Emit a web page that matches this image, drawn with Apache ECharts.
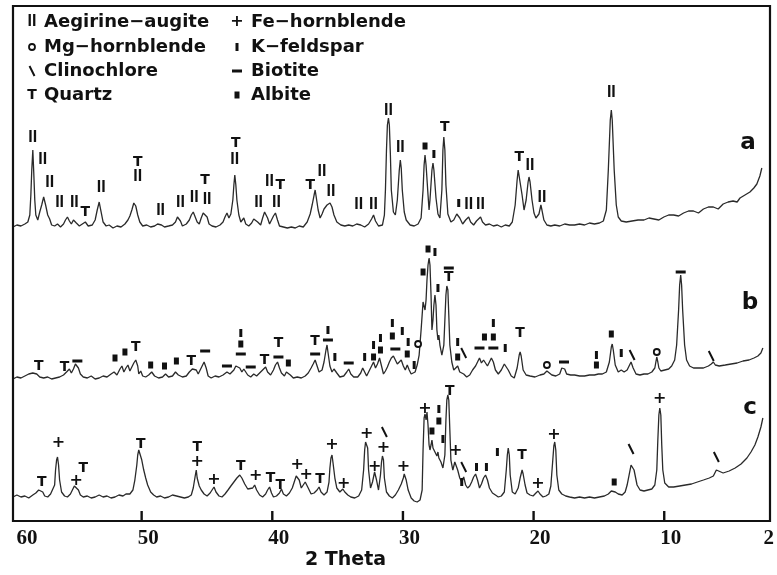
<!DOCTYPE html>
<html><head><meta charset="utf-8">
<script src="https://cdn.jsdelivr.net/npm/echarts@6/dist/echarts.min.js"></script>
<style>html,body{margin:0;padding:0;background:#fff}#c{width:777px;height:575px}</style>
</head><body><div id="c"></div>
<script>
// ---- data: [2theta, intensity above the pattern's own baseline] ----
const traceA = [[59.85,1],[59.55,3],[59.24,2],[58.94,4],[58.71,6],[58.56,13],[58.48,33],[58.41,58],[58.33,78],[58.26,56],[58.18,28],[58.10,13],[57.95,8],[57.80,16],[57.65,23],[57.50,31],[57.35,23],[57.19,13],[57.04,9],[56.89,3],[56.66,2],[56.44,4],[56.21,1],[55.98,4],[55.83,8],[55.68,11],[55.53,7],[55.38,4],[55.22,8],[55.15,10],[55.00,5],[54.77,2],[54.54,4],[54.31,6],[54.09,2],[53.78,3],[53.56,8],[53.40,18],[53.25,26],[53.10,16],[52.95,6],[52.72,2],[52.49,3],[52.19,0],[51.89,2],[51.58,1],[51.28,4],[51.05,8],[50.90,12],[50.75,18],[50.60,25],[50.52,26],[50.45,22],[50.30,13],[50.14,6],[49.92,2],[49.61,3],[49.31,1],[49.01,2],[48.78,4],[48.63,6],[48.48,3],[48.25,1],[47.94,2],[47.64,3],[47.41,6],[47.26,11],[47.19,13],[47.03,7],[46.88,2],[46.58,4],[46.35,8],[46.20,13],[46.05,16],[45.90,14],[45.75,6],[45.59,4],[45.44,10],[45.29,15],[45.14,17],[44.99,11],[44.84,4],[44.61,2],[44.31,1],[44.00,3],[43.77,6],[43.62,11],[43.47,15],[43.32,10],[43.17,14],[43.02,28],[42.94,43],[42.87,53],[42.79,43],[42.71,28],[42.56,13],[42.41,6],[42.18,10],[42.03,4],[41.80,2],[41.58,5],[41.42,9],[41.27,11],[41.12,6],[40.89,3],[40.74,10],[40.59,16],[40.51,18],[40.36,10],[40.21,4],[40.06,6],[39.91,12],[39.76,15],[39.60,8],[39.45,2],[39.15,1],[38.85,0],[38.54,1],[38.24,0],[37.94,2],[37.63,1],[37.33,6],[37.10,14],[36.95,23],[36.80,33],[36.72,38],[36.65,32],[36.49,18],[36.34,10],[36.19,14],[36.04,19],[35.81,23],[35.58,25],[35.43,21],[35.28,13],[35.06,6],[34.75,3],[34.45,2],[34.15,3],[33.84,2],[33.54,4],[33.39,6],[33.23,3],[32.93,1],[32.63,4],[32.40,9],[32.25,13],[32.10,7],[31.87,2],[31.57,3],[31.42,13],[31.34,38],[31.26,78],[31.19,103],[31.11,110],[31.04,103],[30.96,73],[30.89,38],[30.73,16],[30.58,13],[30.43,28],[30.28,58],[30.20,68],[30.13,60],[30.05,38],[29.90,16],[29.75,8],[29.45,3],[29.14,2],[28.84,4],[28.61,10],[28.46,38],[28.38,63],[28.31,73],[28.23,63],[28.08,33],[28.00,18],[27.93,28],[27.78,58],[27.70,65],[27.63,58],[27.47,30],[27.32,14],[27.17,10],[27.02,38],[26.94,78],[26.87,91],[26.79,78],[26.71,43],[26.56,14],[26.33,6],[26.11,8],[25.88,14],[25.80,15],[25.65,10],[25.43,4],[25.20,8],[24.97,11],[24.82,6],[24.59,3],[24.37,7],[24.06,11],[23.91,6],[23.68,3],[23.38,4],[23.08,2],[22.77,3],[22.47,1],[22.17,3],[21.86,2],[21.63,6],[21.41,23],[21.26,48],[21.18,58],[21.10,60],[21.03,56],[20.88,33],[20.73,18],[20.57,28],[20.42,46],[20.35,51],[20.27,46],[20.12,28],[19.97,15],[19.82,10],[19.59,14],[19.44,23],[19.36,18],[19.21,8],[18.98,3],[18.68,2],[18.38,3],[18.00,2],[17.62,4],[17.24,3],[16.86,3],[16.48,4],[16.10,3],[15.72,5],[15.34,4],[14.96,5],[14.66,7],[14.43,18],[14.28,58],[14.13,108],[14.05,118],[13.98,108],[13.83,58],[13.67,23],[13.52,11],[13.29,7],[12.91,6],[12.46,7],[12.00,8],[11.93,6],[11.55,8],[11.17,10],[10.79,9],[10.41,8],[10.03,11],[9.66,13],[9.28,13],[8.90,12],[8.52,15],[8.14,17],[7.76,17],[7.38,15],[7.00,19],[6.62,21],[6.24,21],[5.87,19],[5.49,24],[5.11,26],[4.73,27],[4.42,26],[4.20,30],[3.82,33],[3.44,36],[3.14,40],[2.91,44],[2.68,52],[2.53,60]];

const traceB = [[59.85,1],[59.55,3],[59.24,2],[58.94,4],[58.64,6],[58.33,7],[58.18,8],[58.03,6],[57.80,3],[57.50,2],[57.19,3],[56.89,1],[56.59,2],[56.28,3],[55.98,5],[55.75,8],[55.53,11],[55.38,7],[55.22,11],[55.07,16],[55.00,17],[54.84,12],[54.69,6],[54.47,3],[54.16,2],[53.86,4],[53.56,1],[53.25,2],[52.95,4],[52.65,3],[52.34,6],[52.11,8],[51.89,5],[51.66,11],[51.51,14],[51.36,8],[51.20,12],[51.05,15],[50.90,9],[50.75,13],[50.60,17],[50.45,20],[50.30,14],[50.22,6],[50.07,9],[49.92,4],[49.69,3],[49.46,5],[49.23,8],[49.01,4],[48.70,2],[48.40,3],[48.17,6],[47.94,3],[47.64,4],[47.41,8],[47.19,5],[46.88,3],[46.58,4],[46.35,8],[46.12,11],[45.97,13],[45.82,10],[45.67,6],[45.52,8],[45.37,14],[45.22,18],[45.06,12],[44.91,4],[44.68,2],[44.38,4],[44.08,3],[43.77,5],[43.47,8],[43.24,6],[42.94,10],[42.79,14],[42.64,15],[42.49,12],[42.33,8],[42.18,11],[42.03,10],[41.88,5],[41.65,3],[41.42,6],[41.20,4],[40.97,7],[40.74,10],[40.51,13],[40.36,8],[40.13,5],[39.91,10],[39.76,15],[39.60,18],[39.45,12],[39.30,7],[39.07,4],[38.92,8],[38.77,10],[38.62,5],[38.39,2],[38.09,3],[37.78,2],[37.48,4],[37.25,7],[37.03,12],[36.87,16],[36.72,20],[36.57,14],[36.42,8],[36.19,10],[36.04,18],[35.89,30],[35.81,35],[35.74,28],[35.59,14],[35.43,8],[35.28,11],[35.21,13],[35.06,7],[34.83,3],[34.53,4],[34.30,8],[34.15,11],[33.99,6],[33.77,3],[33.46,3],[33.23,7],[33.08,12],[32.93,10],[32.78,4],[32.63,6],[32.40,14],[32.25,18],[32.10,12],[31.95,16],[31.79,22],[31.64,14],[31.49,6],[31.34,9],[31.19,13],[31.04,18],[30.89,22],[30.73,24],[30.58,22],[30.43,16],[30.28,18],[30.13,20],[29.97,14],[29.82,10],[29.67,15],[29.52,10],[29.37,6],[29.22,5],[29.07,8],[28.91,15],[28.76,25],[28.61,50],[28.46,78],[28.38,80],[28.31,70],[28.23,80],[28.16,100],[28.08,115],[28.00,122],[27.93,115],[27.85,85],[27.78,50],[27.70,60],[27.63,75],[27.55,85],[27.47,75],[27.40,50],[27.32,40],[27.25,45],[27.17,35],[27.02,25],[26.87,35],[26.79,60],[26.71,85],[26.64,94],[26.56,90],[26.49,65],[26.41,35],[26.26,18],[26.11,10],[25.96,12],[25.81,14],[25.65,8],[25.50,10],[25.35,6],[25.12,3],[24.89,5],[24.67,10],[24.44,14],[24.29,18],[24.14,22],[23.99,17],[23.83,20],[23.68,18],[23.53,14],[23.38,18],[23.23,22],[23.08,18],[22.92,10],[22.70,6],[22.47,10],[22.24,16],[22.09,17],[21.94,10],[21.71,4],[21.48,2],[21.26,12],[21.10,25],[21.03,28],[20.95,24],[20.80,10],[20.57,5],[20.27,4],[19.89,3],[19.51,5],[19.21,6],[18.98,9],[18.91,10],[18.83,8],[18.60,5],[18.30,4],[18.00,6],[17.84,12],[17.69,14],[17.62,11],[17.47,6],[17.16,5],[16.86,5],[16.48,4],[16.10,4],[15.72,5],[15.34,5],[15.19,7],[15.04,6],[14.74,6],[14.43,8],[14.20,18],[14.05,33],[13.98,36],[13.90,30],[13.75,15],[13.52,8],[13.29,10],[13.07,8],[12.84,10],[12.69,14],[12.54,18],[12.38,12],[12.16,6],[11.86,5],[11.55,6],[11.25,6],[10.95,8],[10.72,12],[10.64,18],[10.57,23],[10.49,18],[10.41,12],[10.26,9],[9.96,10],[9.66,11],[9.43,14],[9.20,20],[9.05,35],[8.90,70],[8.82,95],[8.74,105],[8.67,95],[8.59,70],[8.44,35],[8.29,20],[8.06,14],[7.76,12],[7.38,12],[7.00,12],[6.62,14],[6.40,16],[6.24,18],[6.09,15],[5.79,14],[5.33,15],[4.88,16],[4.42,17],[3.97,19],[3.51,20],[3.13,22],[2.83,24],[2.60,27],[2.45,32]];

const traceC = [[59.85,3],[59.55,5],[59.24,3],[58.94,4],[58.64,2],[58.33,5],[58.10,7],[57.88,10],[57.73,12],[57.57,8],[57.42,4],[57.19,3],[56.97,6],[56.82,8],[56.66,15],[56.59,30],[56.51,40],[56.44,43],[56.36,35],[56.28,20],[56.13,8],[55.90,4],[55.68,3],[55.45,6],[55.30,10],[55.15,14],[55.00,16],[54.84,10],[54.69,5],[54.47,3],[54.16,4],[53.86,2],[53.56,3],[53.25,5],[52.95,3],[52.65,4],[52.34,2],[52.04,3],[51.74,5],[51.43,4],[51.20,6],[51.05,8],[50.90,6],[50.67,10],[50.52,20],[50.37,35],[50.30,45],[50.22,50],[50.14,52],[50.07,48],[49.99,40],[49.84,30],[49.69,22],[49.54,15],[49.31,8],[49.08,5],[48.85,3],[48.55,4],[48.25,2],[47.94,3],[47.64,5],[47.33,4],[47.03,3],[46.73,2],[46.43,3],[46.20,5],[46.05,12],[45.90,24],[45.82,30],[45.75,22],[45.59,14],[45.44,10],[45.22,6],[44.99,4],[44.76,7],[44.61,10],[44.46,13],[44.31,8],[44.08,4],[43.85,3],[43.62,6],[43.39,10],[43.17,14],[42.94,18],[42.71,22],[42.49,25],[42.33,22],[42.11,16],[41.88,11],[41.73,9],[41.50,12],[41.35,15],[41.20,10],[40.97,5],[40.74,3],[40.51,6],[40.36,10],[40.21,13],[40.06,7],[39.91,3],[39.68,4],[39.45,7],[39.30,11],[39.15,6],[38.92,4],[38.69,7],[38.47,12],[38.32,18],[38.17,24],[38.09,26],[37.94,20],[37.78,12],[37.63,14],[37.48,18],[37.40,19],[37.25,12],[37.03,6],[36.80,7],[36.57,10],[36.42,13],[36.27,8],[36.04,5],[35.81,8],[35.66,18],[35.59,32],[35.51,42],[35.43,45],[35.36,38],[35.21,22],[35.06,12],[34.83,8],[34.60,11],[34.45,8],[34.22,5],[33.99,3],[33.69,2],[33.39,4],[33.16,10],[33.01,30],[32.93,50],[32.86,58],[32.78,60],[32.70,52],[32.63,30],[32.48,12],[32.33,18],[32.17,28],[32.02,20],[31.87,10],[31.72,25],[31.64,38],[31.57,44],[31.49,40],[31.42,22],[31.26,8],[31.04,4],[30.81,2],[30.58,5],[30.35,10],[30.13,16],[29.97,22],[29.90,26],[29.75,20],[29.60,10],[29.37,2],[29.14,-1],[28.91,-2],[28.69,0],[28.53,10],[28.46,50],[28.38,82],[28.31,86],[28.23,80],[28.16,88],[28.08,75],[28.00,55],[27.93,50],[27.85,55],[27.78,60],[27.70,52],[27.55,48],[27.40,44],[27.32,48],[27.25,42],[27.09,38],[26.94,32],[26.79,45],[26.71,80],[26.64,100],[26.56,105],[26.49,100],[26.41,70],[26.33,40],[26.18,30],[26.03,38],[25.96,40],[25.81,30],[25.65,22],[25.50,18],[25.35,23],[25.20,15],[25.05,12],[24.89,14],[24.74,18],[24.59,23],[24.44,26],[24.29,20],[24.14,12],[23.99,16],[23.83,22],[23.68,25],[23.53,20],[23.38,12],[23.15,7],[22.92,5],[22.70,3],[22.47,4],[22.24,8],[22.09,30],[22.01,45],[21.94,52],[21.86,45],[21.79,25],[21.63,8],[21.41,6],[21.18,12],[21.03,22],[20.88,30],[20.80,26],[20.65,15],[20.50,7],[20.27,5],[20.04,4],[19.82,7],[19.66,9],[19.51,6],[19.28,3],[19.06,4],[18.83,6],[18.68,14],[18.53,40],[18.45,54],[18.38,58],[18.30,50],[18.22,25],[18.07,10],[17.84,6],[17.54,4],[17.24,3],[16.86,2],[16.48,3],[16.10,2],[15.72,3],[15.34,2],[14.96,3],[14.58,4],[14.28,6],[14.05,9],[13.90,10],[13.75,8],[13.52,6],[13.22,5],[12.99,8],[12.84,15],[12.69,25],[12.54,35],[12.46,37],[12.31,30],[12.08,15],[11.85,10],[11.55,9],[11.25,10],[10.95,11],[10.72,15],[10.57,30],[10.49,60],[10.41,85],[10.34,92],[10.26,85],[10.19,55],[10.11,30],[9.96,17],[9.66,13],[9.28,13],[8.82,14],[8.37,15],[7.91,16],[7.46,18],[7.00,20],[6.55,22],[6.24,24],[6.01,30],[5.86,28],[5.49,27],[5.03,29],[4.57,32],[4.12,36],[3.67,42],[3.36,48],[3.06,55],[2.83,63],[2.60,73],[2.45,82]];

// phase marks: [2theta, level above baseline, phase code]
const marksA = [[58.33,90,'II'],[57.57,68,'II'],[57.04,45,'II'],[56.28,25,'II'],[55.15,25,'II'],[54.31,16,'T'],[53.10,40,'II'],[50.30,66,'T'],[50.30,51,'II'],[48.55,17,'II'],[47.03,25,'II'],[45.97,30,'II'],[45.14,48,'T'],[44.99,28,'II'],[42.79,85,'T'],[42.87,68,'II'],[41.05,25,'II'],[40.21,46,'II'],[39.38,43,'T'],[39.68,25,'II'],[37.10,43,'T'],[36.19,56,'II'],[35.51,36,'II'],[33.39,23,'II'],[32.25,23,'II'],[31.11,117,'II'],[30.20,80,'II'],[28.31,82,'s'],[27.63,74,'I'],[26.79,101,'T'],[25.73,25,'I'],[24.97,23,'II'],[24.06,23,'II'],[21.10,71,'T'],[20.27,62,'II'],[19.36,30,'II'],[14.05,135,'II']];
const marksB = [[57.88,14,'T'],[55.91,13,'T'],[54.92,19,'-'],[52.04,22,'s'],[51.28,28,'s'],[50.45,33,'T'],[49.31,15,'s'],[48.25,14,'s'],[47.34,19,'s'],[46.20,19,'T'],[45.14,29,'-'],[43.47,14,'-'],[42.41,47,'I'],[42.41,36,'s'],[42.41,26,'-'],[41.65,13,'-'],[40.59,20,'T'],[39.53,37,'T'],[39.53,23,'-'],[38.77,17,'s'],[36.72,39,'T'],[36.72,26,'-'],[35.74,50,'I'],[35.74,40,'-'],[35.21,23,'I'],[34.15,17,'-'],[32.93,23,'I'],[32.25,23,'s'],[32.25,35,'I'],[31.72,42,'I'],[31.72,30,'s'],[30.81,57,'I'],[30.81,44,'s'],[30.58,31,'-'],[30.05,49,'I'],[29.60,38,'I'],[29.67,26,'s'],[29.14,15,'I'],[28.84,36,'o'],[28.08,131,'s'],[27.55,128,'I'],[28.46,108,'s'],[27.32,92,'I'],[26.49,112,'-'],[26.49,103,'T'],[25.81,38,'I'],[25.81,23,'s'],[25.35,27,'\\'],[24.14,32,'-'],[23.76,43,'s'],[23.08,57,'I'],[23.08,43,'s'],[23.08,32,'-'],[22.17,32,'I'],[21.03,47,'T'],[18.98,15,'o'],[17.67,18,'-'],[15.19,25,'I'],[15.19,15,'s'],[14.05,46,'s'],[13.29,27,'I'],[12.46,25,'\\'],[10.57,28,'o'],[8.74,108,'-'],[6.40,24,'\\']];
const marksC = [[57.65,18,'T'],[56.36,57,'+'],[55.00,19,'+'],[54.47,32,'T'],[50.07,56,'T'],[45.75,53,'T'],[45.75,38,'+'],[44.46,20,'+'],[42.41,34,'T'],[41.27,24,'+'],[40.13,22,'T'],[39.38,15,'T'],[38.09,35,'+'],[37.40,25,'+'],[36.34,21,'T'],[35.43,55,'+'],[34.53,16,'+'],[32.78,66,'+'],[32.17,33,'+'],[31.42,68,'\\'],[31.49,52,'+'],[29.97,33,'+'],[28.31,91,'+'],[27.25,91,'I'],[27.25,79,'s'],[27.78,69,'s'],[26.94,61,'I'],[26.41,109,'T'],[25.96,49,'+'],[25.35,33,'\\'],[24.37,33,'I'],[23.61,33,'I'],[25.50,18,'I'],[22.77,48,'I'],[20.88,45,'T'],[19.66,16,'+'],[18.45,65,'+'],[13.83,18,'s'],[12.54,51,'\\'],[10.34,101,'+'],[6.01,43,'\\']];

const xLabelValues = [2,10,20,30,40,50,60];
const xTickValues = [10,20,30,40,50];
const legendItems = [['II','Aegirine−augite'],['o','Mg−hornblende'],['\\','Clinochlore'],['T','Quartz'],['+','Fe−hornblende'],['I','K−feldspar'],['-','Biotite'],['s','Albite']];
const panelNames = ['a','b','c'];

// ---- rendering ----
const INK = '#111';
const LINE = '#2a2a2a';
const panels = [
  {name:'a', trace:traceA, marks:marksA, offset:292, labelPos:[748,143]},
  {name:'b', trace:traceB, marks:marksB, offset:140, labelPos:[750,303]},
  {name:'c', trace:traceC, marks:marksC, offset:20,  labelPos:[750,408]}
];

function markShape(type, x, y) {
  const txt = (t, font) => ({type:'text', x:x, y:y, style:{text:t, font:font, fill:INK, align:'center', verticalAlign:'middle'}});
  switch (type) {
    case 'II': return txt('II', 'bold 16px "Liberation Sans"');
    case 'T': return txt('T', 'bold 14px "DejaVu Sans"');
    case '+': return txt('+', 'bold 16px "DejaVu Sans"');
    case 'I': return {type:'rect', shape:{x:x-1.5, y:y-4, width:3, height:8}, style:{fill:INK}};
    case '-': return {type:'rect', shape:{x:x-5, y:y-1.5, width:10, height:3}, style:{fill:INK}};
    case 's': return {type:'rect', shape:{x:x-2.5, y:y-3.5, width:5, height:7}, style:{fill:INK}};
    case 'o': return {type:'circle', shape:{cx:x, cy:y, r:3}, style:{fill:'#fff', stroke:INK, lineWidth:1.8}};
    default: return {type:'line', shape:{x1:x-2.5, y1:y-5, x2:x+2.5, y2:y+5}, style:{stroke:INK, lineWidth:2}};
  }
}

const series = [];
panels.forEach(p => {
  series.push({
    type:'line', name:p.name, data:p.trace.map(d => [d[0], d[1] + p.offset]),
    showSymbol:false, symbol:'none', lineStyle:{color:LINE, width:1.3}, silent:true, z:2
  });
  series.push({
    type:'custom', name:p.name + '-marks', coordinateSystem:'cartesian2d',
    data:p.marks.map(m => [m[0], m[1] + p.offset]), encode:{x:0, y:1}, silent:true, z:5,
    renderItem:(params, api) => {
      const pt = api.coord([api.value(0), api.value(1)]);
      return markShape(p.marks[params.dataIndex][2], pt[0], pt[1]);
    }
  });
});

const graphics = [];
const legRows = [22, 47, 71, 95];
legendItems.forEach((it, i) => {
  const col = Math.floor(i / 4), row = i % 4;
  const sx = col === 0 ? 32 : 237, tx = col === 0 ? 44 : 251;
  graphics.push(markShape(it[0], sx, legRows[row]));
  graphics.push({type:'text', x:tx, y:legRows[row], style:{text:it[1], font:'bold 18px "DejaVu Sans"', fill:INK, align:'left', verticalAlign:'middle'}});
});
panels.forEach((p, i) => {
  graphics.push({type:'text', x:p.labelPos[0], y:p.labelPos[1], style:{text:panelNames[i], font:'bold 23px "DejaVu Sans"', fill:INK, align:'center', verticalAlign:'middle'}});
});
graphics.push({type:'rect', shape:{x:13, y:6, width:757, height:515}, style:{fill:null, stroke:INK, lineWidth:2.2}, z:100});

const numFont = {fontFamily:'Liberation Serif', fontWeight:'bold', fontSize:21, color:INK};
const chart = echarts.init(document.getElementById('c'));
chart.setOption({
  animation:false,
  backgroundColor:'#fff',
  title:{text:'2 Theta', left:305, top:551, padding:0, textStyle:{fontFamily:'DejaVu Sans', fontWeight:'bold', fontSize:19, color:INK}},
  grid:{left:11, right:1, top:6, bottom:55},
  xAxis:{
    type:'value', min:2, max:60, inverse:true,
    axisLine:{show:false}, splitLine:{show:false}, axisTick:{show:false},
    axisLabel:{
      customValues:xLabelValues, margin:8,
      formatter: v => v === 60 ? '{f|60}' : (v === 2 ? '{e|2}' : '{n|' + v + '}'),
      rich:{
        n:Object.assign({padding:[0,0,0,13]}, numFont),
        f:Object.assign({padding:[0,0,0,32]}, numFont),
        e:Object.assign({padding:0}, numFont)
      }
    }
  },
  yAxis:{type:'value', min:0, max:514, show:false},
  series:series,
  graphic:{elements:graphics}
});

// inward tick marks, positioned through the x scale
const tickEls = xTickValues.map(v => {
  const pt = chart.convertToPixel({gridIndex:0}, [v, 0]);
  return {type:'rect', shape:{x:pt[0] - 1.2, y:pt[1] - 9, width:2.4, height:9}, style:{fill:INK}, z:120};
});
chart.setOption({graphic:{elements:graphics.concat(tickEls)}});
</script>
</body></html>
